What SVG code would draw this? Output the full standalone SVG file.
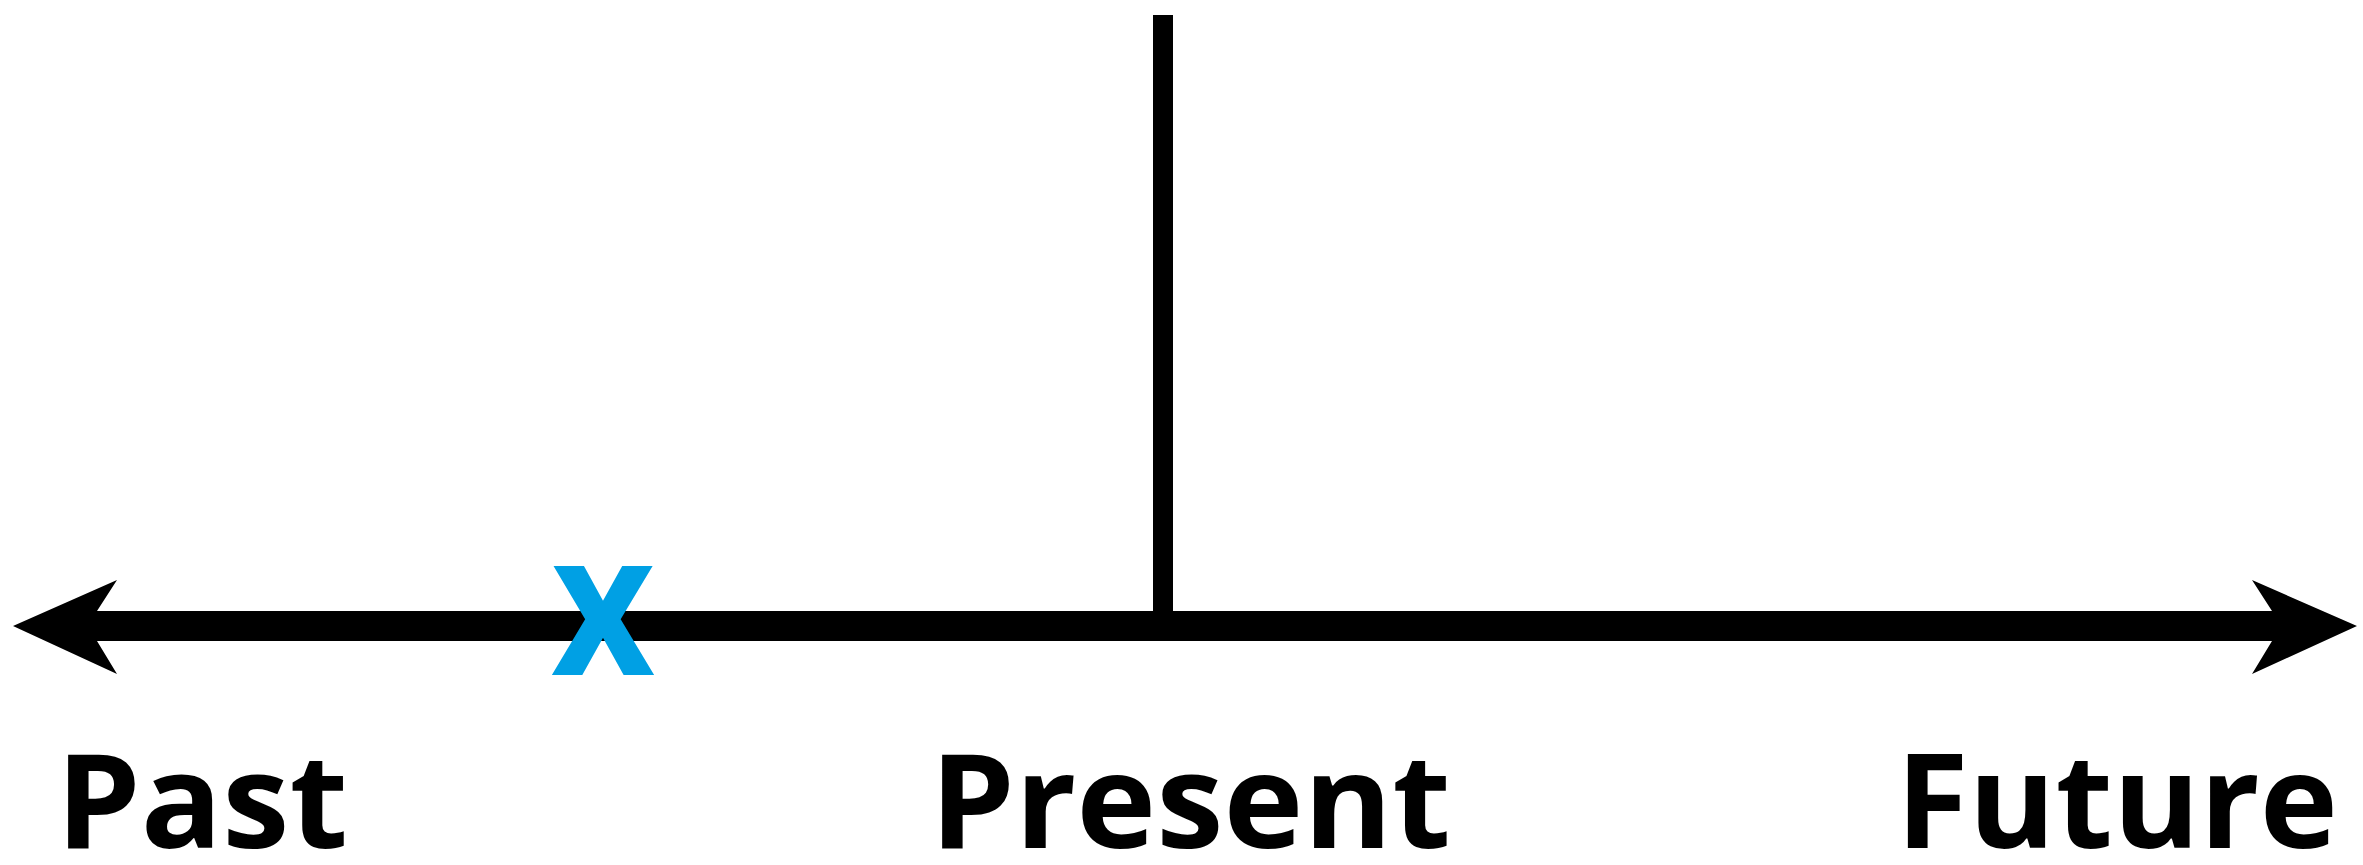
<svg xmlns="http://www.w3.org/2000/svg" width="2363" height="865" viewBox="0 0 2363 865">
  <style>
    .lbl { font-family: "Open Sans", "Liberation Sans", sans-serif; font-weight: bold; font-size: 131px; fill: #000000; }
    .mark { font-family: "Open Sans", "Liberation Sans", sans-serif; font-weight: bold; font-size: 200px; fill: #00A0E4; }
  </style>
  <rect x="0" y="0" width="2363" height="865" fill="#ffffff"/>
  <g id="connectors">
    <path id="timeline" d="M13,626 L117,580 L97,611 L2272,611 L2252,580 L2357,626 L2252,674 L2272,641 L97,641 L117,674 Z" fill="#000000"/>
    <rect id="present-line" x="1153" y="15" width="20" height="600" fill="#000000"/>
  </g>
  <g id="node-x">
    <text class="mark" x="603" y="675" text-anchor="middle" textLength="104" lengthAdjust="spacingAndGlyphs">x</text>
  </g>
  <g id="node-past">
    <text class="lbl" x="56" y="848" textLength="292" lengthAdjust="spacingAndGlyphs">Past</text>
  </g>
  <g id="node-present">
    <text class="lbl" x="930" y="848" textLength="521" lengthAdjust="spacingAndGlyphs">Present</text>
  </g>
  <g id="node-future">
    <text class="lbl" x="1896" y="848" textLength="442" lengthAdjust="spacingAndGlyphs">Future</text>
  </g>
</svg>
